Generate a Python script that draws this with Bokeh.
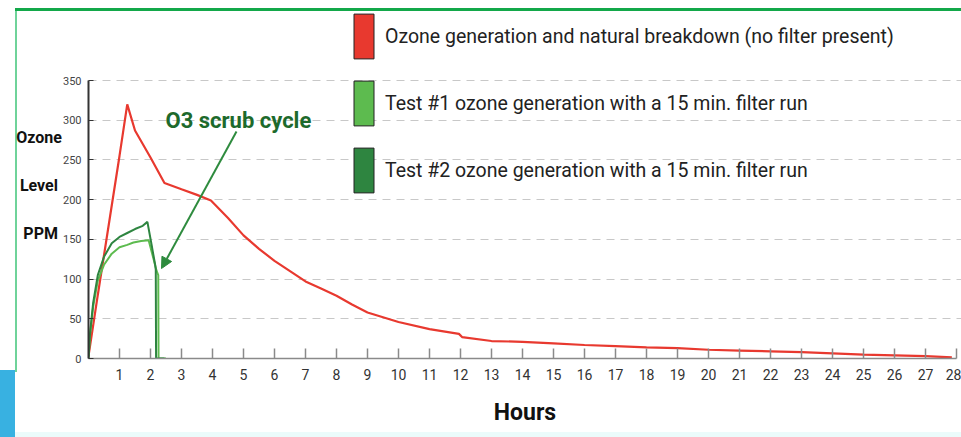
from bokeh.plotting import figure
from bokeh.models import (Range1d, FixedTicker, Label, Arrow, NormalHead,
                          Legend, LegendItem)
from bokeh.embed import file_html
from bokeh.resources import INLINE

# ---- data ----
hours_red = [0, 0.3, 0.7, 1.0, 1.25, 1.5, 2.0, 2.45, 3.0, 3.5, 3.95, 4.5, 5.0,
             5.5, 6.0, 6.5, 7.0, 7.5, 8.0, 8.5, 9.0, 10, 11, 11.95, 12.05, 13,
             14, 15, 16, 17, 18, 19, 20, 21, 22, 23, 24, 25, 26, 27, 27.85]
ppm_red = [3, 80, 180, 255, 320, 287, 253, 221, 213, 206, 199, 177, 155,
           138, 123, 110, 97, 88, 79, 68, 58, 46, 37, 31, 27, 22,
           21, 19, 17, 15.5, 14, 13, 11, 10, 9, 8, 6.5, 5, 4, 3, 1.5]

hours_t1 = [0, 0.05, 0.15, 0.3, 0.5, 0.75, 1.0, 1.25, 1.45, 1.7, 1.94, 2.1, 2.2, 2.25, 2.26, 2.5]
ppm_t1 = [0, 30, 65, 98, 118, 132, 140, 143, 146, 148, 149, 125, 110, 105, 0, 0]

hours_t2 = [0, 0.05, 0.15, 0.3, 0.5, 0.75, 1.0, 1.25, 1.5, 1.75, 1.9, 2.05, 2.15, 2.17, 2.18, 2.45]
ppm_t2 = [0, 32, 70, 105, 128, 145, 153, 158, 163, 167, 172, 140, 118, 112, 0, 0]

x_ticks = list(range(1, 29))
y_ticks = [0, 50, 100, 150, 200, 250, 300, 350]
legend_labels = ["Ozone generation and natural breakdown (no filter present)",
                 "Test #1 ozone generation with a 15 min. filter run",
                 "Test #2 ozone generation with a 15 min. filter run"]
y_label = "Ozone\nLevel\u00a0\nPPM\u00a0"
x_label = "Hours"
note_text = "O3 scrub cycle"

RED = "#e8392f"
LGREEN = "#5dbb4f"
DGREEN = "#2e8540"
FONT = "Roboto"

# page-pixel helpers (frame: x=0 at page 88, 31 px/hour; y=0 at page 358)
PXH = 31.0
PXU = 278.0 / 350.0
TOP = 12
def dx(px):
    return (px - 88) / PXH
def dy(py):
    return (358 - py) / PXU

deco = ("linear-gradient(#13a84a,#13a84a) 15px 8px / 946px 3px no-repeat, "
        "linear-gradient(#38b1e1,#38b1e1) 0px 370px / 15px 67px no-repeat, "
        "linear-gradient(#6fd39a,#6fd39a) 15px 10px / 2px 362px no-repeat, "
        "linear-gradient(#ebfbfb,#ebfbfb) 15px 432px / 946px 5px no-repeat, "
        "white")

p = figure(width=961, height=437, output_backend="svg", toolbar_location=None,
           x_range=Range1d(0, 873 / PXH), y_range=Range1d(0, (358 - TOP) / PXU),
           min_border_left=88, min_border_bottom=79, min_border_top=TOP,
           min_border_right=0, background_fill_color="white",
           border_fill_alpha=0, outline_line_color=None,
           styles={"background": deco})

# axes
p.xaxis.ticker = FixedTicker(ticks=x_ticks)
p.xaxis.bounds = (0, 28)
p.xaxis.axis_line_color = "#8a8a8a"
p.xaxis.axis_line_width = 1.5
p.xaxis.major_tick_in = 10
p.xaxis.major_tick_out = 0
p.xaxis.major_tick_line_color = "#8a8a8a"
p.xaxis.major_tick_line_width = 1.5
p.xaxis.minor_tick_line_color = None
p.xaxis.major_label_standoff = 10
p.xaxis.major_label_text_font = FONT
p.xaxis.major_label_text_font_size = "14px"
p.xaxis.major_label_text_color = "#333333"
p.xaxis.axis_label = x_label
p.xaxis.axis_label_text_font = FONT
p.xaxis.axis_label_text_font_style = "bold"
p.xaxis.axis_label_text_font_size = "23px"
p.xaxis.axis_label_text_color = "#111111"
p.xaxis.axis_label_standoff = 16

p.yaxis.ticker = FixedTicker(ticks=y_ticks)
p.yaxis.bounds = (0, 350)
p.yaxis.axis_line_color = "#333333"
p.yaxis.axis_line_width = 2
p.yaxis.major_tick_in = 5
p.yaxis.major_tick_out = 0
p.yaxis.major_tick_line_color = "#333333"
p.yaxis.minor_tick_line_color = None
p.yaxis.major_label_standoff = 7
p.yaxis.major_label_text_font = FONT
p.yaxis.major_label_text_font_size = "11px"
p.yaxis.major_label_text_color = "#444444"
p.yaxis.axis_label = y_label
p.yaxis.axis_label_orientation = "horizontal"
p.yaxis.axis_label_text_font = FONT
p.yaxis.axis_label_text_font_style = "bold"
p.yaxis.axis_label_text_font_size = "16px"
p.yaxis.axis_label_text_line_height = 2.55
p.yaxis.axis_label_text_color = "#111111"
p.yaxis.axis_label_standoff = -2

p.xgrid.grid_line_color = None
p.ygrid.grid_line_color = "#c8c8c8"
p.ygrid.grid_line_dash = "8 6"
p.ygrid.grid_line_width = 1

# series
p.line(hours_red, ppm_red, line_color=RED, line_width=2.2)
p.line(hours_t1, ppm_t1, line_color=LGREEN, line_width=2)
p.line(hours_t2, ppm_t2, line_color=DGREEN, line_width=2)

# legend with tall filled swatches (swatch renderers sit off-range)
sw = []
for c in (RED, LGREEN, DGREEN):
    sw.append(p.quad(left=[-10], right=[-9], top=[-10], bottom=[-11], fill_color=c,
                     line_color="#222222", line_width=1))
legend = Legend(items=[LegendItem(label=l, renderers=[r]) for l, r in zip(legend_labels, sw)],
                location=(263, 160), orientation="vertical",
                glyph_width=25, glyph_height=56, spacing=11, padding=0, margin=0,
                label_standoff=9, label_text_font=FONT,
                label_text_font_size="19.5px", label_text_color="#222222",
                background_fill_alpha=0, border_line_color=None)
p.add_layout(legend, "center")

# annotation text and arrow
p.add_layout(Label(x=dx(165), y=dy(120), text=note_text, text_font=FONT,
                   text_font_style="bold", text_font_size="22px",
                   text_color="#1d6a2c", text_baseline="alphabetic"))
p.add_layout(Arrow(x_start=dx(236), y_start=dy(131), x_end=dx(161), y_end=dy(268),
                   line_color="#2e8b3e", line_width=2,
                   end=NormalHead(size=11, fill_color="#2e8b3e", line_color="#2e8b3e")))

open("out.html", "w").write(file_html(p, INLINE))
